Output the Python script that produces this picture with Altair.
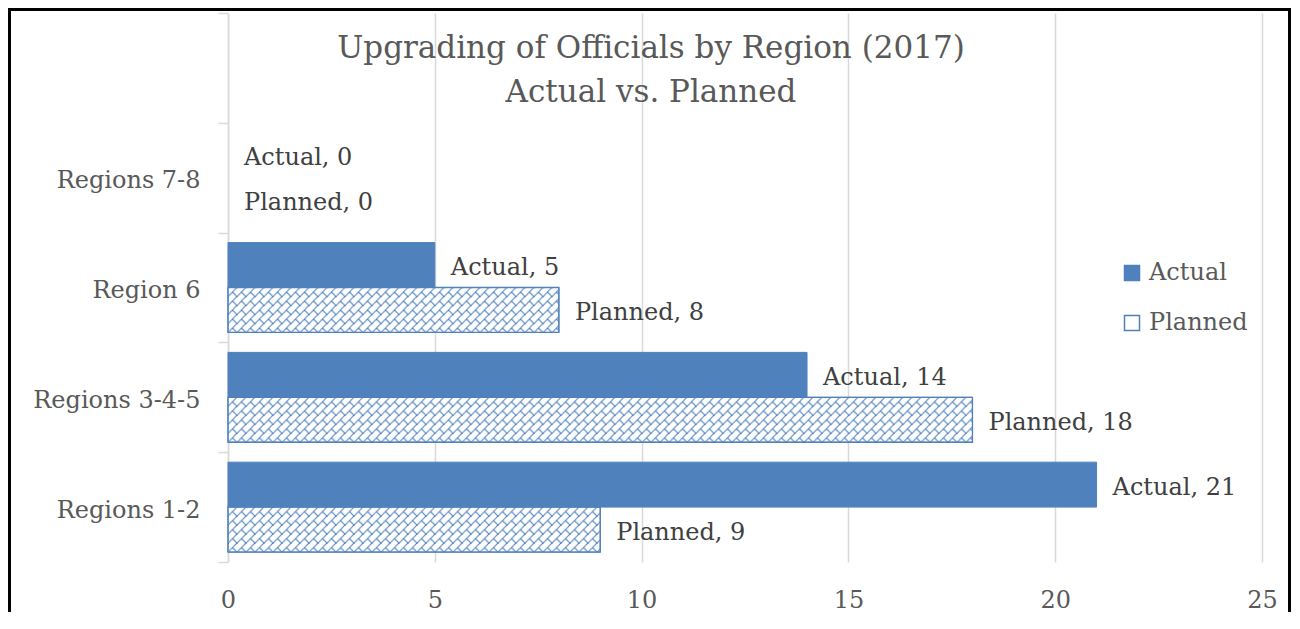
import base64
import altair as alt
import pandas as pd

# ---- data ----
regions = ["Regions 7-8", "Region 6", "Regions 3-4-5", "Regions 1-2"]
actual = [0, 5, 14, 21]
planned = [0, 8, 18, 9]
series = ["Actual", "Planned"]
x_ticks = [0, 5, 10, 15, 20, 25]
title_lines = ["Upgrading of Officials by Region (2017)", "Actual vs. Planned"]
blank_category = " "

rows = []
for r, a, p in zip(regions, actual, planned):
    rows.append({"region": r, "series": "Actual", "value": a})
    rows.append({"region": r, "series": "Planned", "value": p})
df = pd.DataFrame(rows)
df["label"] = df["series"] + ", " + df["value"].astype(str)

# ---- styles ----
BLUE = "#4F81BD"
TEXT = "#595959"
LABEL = "#404040"
GRID = "#D9D9D9"
FONT = "DejaVu Serif"
W, H = 1034, 549
PAD = {"left": 220, "top": 5, "right": 29, "bottom": 50}

hatch_svg = (
    "<svg xmlns='http://www.w3.org/2000/svg' width='100%' height='100%'>"
    "<defs><pattern id='h' width='9' height='9' patternUnits='userSpaceOnUse'>"
    f"<g stroke='{BLUE}' stroke-width='1.1' fill='none'>"
    "<path d='M-1,10 L10,-1'/><path d='M-1,1 L1,-1'/><path d='M8,10 L10,8'/>"
    "<path d='M4.5,4.5 L9.5,9.5'/><path d='M-0.5,-0.5 L0.5,0.5'/>"
    "</g></pattern></defs>"
    "<rect width='100%' height='100%' fill='url(#h)'/></svg>"
)
hatch_url = "data:image/svg+xml;base64," + base64.b64encode(hatch_svg.encode()).decode()

x_enc = alt.X(
    "value:Q",
    scale=alt.Scale(domain=[0, 25], nice=False, zero=True),
    axis=alt.Axis(
        values=x_ticks, title=None, ticks=False, domain=False, grid=True,
        gridColor=GRID, gridWidth=1.5, labelFont=FONT, labelFontSize=24,
        labelColor=TEXT, labelPadding=26, labelFlush=False,
    ),
)
y_enc = alt.Y(
    "region:N",
    scale=alt.Scale(domain=[blank_category] + regions, paddingInner=0, paddingOuter=0),
    axis=alt.Axis(
        title=None, grid=False, ticks=True, tickBand="extent", tickSize=10,
        tickColor=GRID, tickWidth=1.5, domainColor=GRID, domainWidth=1.5,
        labelFont=FONT, labelFontSize=24, labelColor=TEXT, labelPadding=18,
        labelOffset=3,
    ),
)
yoff = alt.YOffset("series:N", scale=alt.Scale(domain=series, paddingInner=0, paddingOuter=0.222))

legend = alt.Legend(
    title=None, orient="none", legendX=892, legendY=248, symbolType="square",
    symbolSize=225, symbolStrokeWidth=1.5, labelFont=FONT, labelFontSize=24,
    labelColor=TEXT, labelOffset=5, rowPadding=26, padding=0,
)

base = alt.Chart(df)
nonzero = base.transform_filter(alt.datum.value > 0)
bars = nonzero.mark_bar(strokeWidth=1).encode(
    x=x_enc, y=y_enc, yOffset=yoff,
    color=alt.Color("series:N", scale=alt.Scale(domain=series, range=[BLUE, "#FFFFFF"]), legend=legend),
    stroke=alt.Stroke("series:N", scale=alt.Scale(domain=series, range=[BLUE, BLUE]), legend=legend),
)
planned_only = nonzero.transform_filter(alt.datum.series == "Planned")
hatch = planned_only.mark_image(aspect=False).encode(
    x=x_enc, x2=alt.datum(0), y=y_enc, yOffset=yoff, url=alt.value(hatch_url)
)
outline = planned_only.mark_bar(fill="transparent", stroke=BLUE, strokeWidth=1.3).encode(
    x=x_enc, y=y_enc, yOffset=yoff
)
labels = base.mark_text(
    align="left", baseline="middle", dx=16, dy=3, font=FONT, fontSize=24, color=LABEL
).encode(x=x_enc, y=y_enc, yOffset=yoff, text="label:N")

one = pd.DataFrame({"k": [0]})
title = alt.Chart(one).mark_text(
    align="center", baseline="middle", font=FONT, fontSize=31, color=TEXT, lineHeight=44
).encode(x=alt.value(423), y=alt.value(36), text=alt.value(title_lines))

frame_left = alt.Chart(one).mark_rule(color="black", strokeWidth=3).encode(
    x=alt.value(-218.5), y=alt.value(-3.5), y2=alt.value(H + PAD["bottom"])
)
frame_right = alt.Chart(one).mark_rule(color="black", strokeWidth=3).encode(
    x=alt.value(1061.5), y=alt.value(-3.5), y2=alt.value(H + PAD["bottom"])
)
frame_top = alt.Chart(one).mark_rule(color="black", strokeWidth=3).encode(
    x=alt.value(-220), x2=alt.value(1063), y=alt.value(-3.5)
)

chart = alt.layer(
    bars, hatch, outline, labels, title, frame_left, frame_right, frame_top
).properties(
    width=W, height=H, padding=PAD, autosize=alt.AutoSizeParams(type="none"),
    background="white",
).configure_view(stroke=None)

chart.save("out.html", embed_options={"renderer": "svg", "actions": False})
